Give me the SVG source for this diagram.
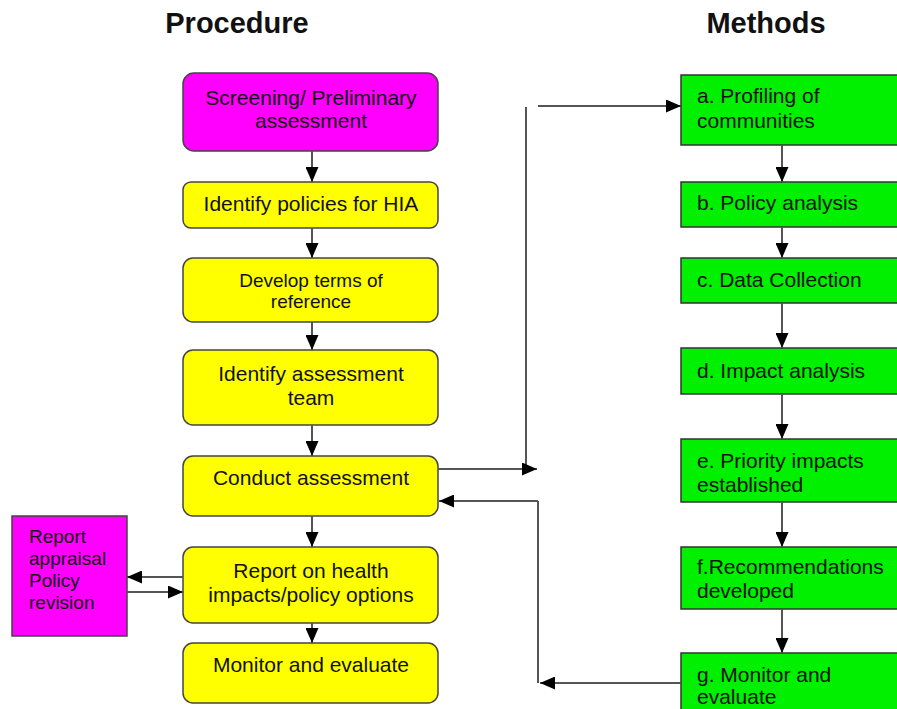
<svg xmlns="http://www.w3.org/2000/svg" width="897" height="709" viewBox="0 0 897 709">
<defs>
<marker id="ah" viewBox="0 0 15 13" refX="15" refY="6.5" markerWidth="15" markerHeight="13" markerUnits="userSpaceOnUse" orient="auto">
<path d="M0,0 L15,6.5 L0,13 z" fill="#000"/>
</marker>
<style>
.t{font-family:"Liberation Sans",Arial,sans-serif;font-size:21px;fill:#111}
.tc{text-anchor:middle}
.h{font-family:"Liberation Sans",Arial,sans-serif;font-size:29px;font-weight:bold;fill:#111;text-anchor:middle}
.y{fill:#ffff00;stroke:#444;stroke-width:1.5}
.m{fill:#ff00ff;stroke:#444;stroke-width:1.5}
.g{fill:#00f000;stroke:#333;stroke-width:1.5}
.c{fill:none;stroke:#555;stroke-width:2}
.a{marker-end:url(#ah)}
</style>
</defs>
<rect width="897" height="709" fill="#fff"/>
<text class="h" x="237" y="33">Procedure</text>
<text class="h" x="766" y="33">Methods</text>

<g id="screening"><rect class="m" x="183" y="73" width="255" height="78" rx="11"/>
<text class="t tc" x="311" y="105">Screening/ Preliminary</text><text class="t tc" x="311" y="128">assessment</text></g>
<g id="identify-policies"><rect class="y" x="183" y="182" width="255" height="46" rx="8"/>
<text class="t tc" x="311" y="211">Identify policies for HIA</text></g>
<g id="develop-terms"><rect class="y" x="183" y="258" width="255" height="64" rx="10"/>
<text class="t tc" x="311" y="287" style="font-size:19px">Develop terms of</text><text class="t tc" x="311" y="308" style="font-size:19px">reference</text></g>
<g id="identify-team"><rect class="y" x="183" y="350" width="255" height="75" rx="10"/>
<text class="t tc" x="311" y="381">Identify assessment</text><text class="t tc" x="311" y="405">team</text></g>
<g id="conduct"><rect class="y" x="183" y="456" width="255" height="60" rx="10"/>
<text class="t tc" x="311" y="485">Conduct assessment</text></g>
<g id="report"><rect class="y" x="183" y="547" width="255" height="76" rx="10"/>
<text class="t tc" x="311" y="578">Report on health</text><text class="t tc" x="311" y="602">impacts/policy options</text></g>
<g id="monitor"><rect class="y" x="183" y="643" width="255" height="60" rx="10"/>
<text class="t tc" x="311" y="672">Monitor and evaluate</text></g>
<g id="appraisal"><rect class="m" x="12" y="516" width="115" height="120"/>
<text class="t" x="29" y="543" style="font-size:19px">Report</text><text class="t" x="29" y="565" style="font-size:19px">appraisal</text><text class="t" x="29" y="587" style="font-size:19px">Policy</text><text class="t" x="29" y="609" style="font-size:19px">revision</text></g>

<g id="m-a"><rect class="g" x="681" y="75" width="230" height="70"/>
<text class="t" x="697" y="103">a. Profiling of</text><text class="t" x="697" y="128">communities</text></g>
<g id="m-b"><rect class="g" x="681" y="182" width="230" height="45"/>
<text class="t" x="697" y="210">b. Policy analysis</text></g>
<g id="m-c"><rect class="g" x="681" y="258" width="230" height="45"/>
<text class="t" x="697" y="287">c. Data Collection</text></g>
<g id="m-d"><rect class="g" x="681" y="348" width="230" height="46"/>
<text class="t" x="697" y="378">d. Impact analysis</text></g>
<g id="m-e"><rect class="g" x="681" y="439" width="230" height="63"/>
<text class="t" x="697" y="468">e. Priority impacts</text><text class="t" x="697" y="492">established</text></g>
<g id="m-f"><rect class="g" x="681" y="547" width="230" height="62"/>
<text class="t" x="697" y="574">f.Recommendations</text><text class="t" x="697" y="598">developed</text></g>
<g id="m-g"><rect class="g" x="681" y="653" width="230" height="70"/>
<text class="t" x="697" y="682">g. Monitor and</text><text class="t" x="697" y="704">evaluate</text></g>

<g id="connectors">
<path class="c a" d="M312,151 V182"/>
<path class="c a" d="M312,228 V258"/>
<path class="c a" d="M312,322 V350"/>
<path class="c a" d="M312,425 V456"/>
<path class="c a" d="M312,516 V547"/>
<path class="c a" d="M312,623 V643"/>
<path class="c a" d="M782,145 V182"/>
<path class="c a" d="M782,227 V258"/>
<path class="c a" d="M782,303 V348"/>
<path class="c a" d="M782,394 V439"/>
<path class="c a" d="M782,502 V547"/>
<path class="c a" d="M782,609 V653"/>
<path class="c" d="M526,469 V107"/>
<path class="c a" d="M438,469 H537"/>
<path class="c a" d="M538,106 H681"/>
<path class="c a" d="M681,683 H540"/>
<path class="c" d="M538,683 V501"/>
<path class="c a" d="M538,501 H439"/>
<path class="c a" d="M183,577 H127"/>
<path class="c a" d="M127,592 H183"/>
</g>
</svg>
